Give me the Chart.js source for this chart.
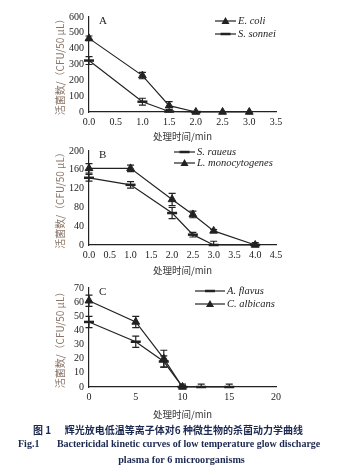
<!DOCTYPE html>
<html><head><meta charset="utf-8">
<script src="https://cdn.jsdelivr.net/npm/chart.js@4.4.1/dist/chart.umd.min.js"></script>
<style>
html,body{margin:0;padding:0;background:#fff;width:363px;height:473px;overflow:hidden;position:relative;}
.c{position:absolute;left:0;width:363px;}
.cap{position:absolute;left:0;width:363px;color:#1b2850;font-weight:bold;white-space:pre;}
</style></head><body>
<div class="c" style="top:0;height:142px"><canvas id="cA" width="363" height="142"></canvas></div>
<div class="c" style="top:140px;height:140px"><canvas id="cB" width="363" height="140"></canvas></div>
<div class="c" style="top:280px;height:140px"><canvas id="cC" width="363" height="140"></canvas></div>
<div class="cap" style="top:422px;left:33px;font-family:'Noto Sans CJK SC';font-size:10px;">图 1      辉光放电低温等离子体对6 种微生物的杀菌动力学曲线</div>
<div class="cap" style="top:438px;left:18px;font-family:'Liberation Serif';font-size:10px;">Fig.1       Bactericidal kinetic curves of low temperature glow discharge</div>
<div class="cap" style="top:454px;left:0;width:363px;text-align:center;font-family:'Liberation Serif';font-size:10.2px;">plasma for 6 microorganisms</div>
<script>
// Panel A
const xA = [0, 1, 1.5, 2, 2.5, 3];
const ecoli = [465, 230, 40, 0, 0, 0];
const ecoliErr = [15, 20, 25, 3, 3, 3];
const xA2 = [0, 1, 1.5, 2];
const sonnei = [325, 65, 3, 0];
const sonneiErr = [25, 22, 8, 2];
// Panel B
const xB = [0, 1, 2, 2.5, 3, 4];
const raueus = [143, 128, 68, 22, 0, 0];
const raueusErr = [7, 7, 12, 5, 8, 2];
const monocyt = [163, 163, 97, 65, 30, 0];
const monocytErr = [10, 7, 13, 7, 3, 5];
// Panel C
const xC1 = [0, 5, 8, 10, 12, 15];
const flavus = [46, 32, 18, 0, 0, 0];
const flavusErr = [4, 4, 4, 2, 2, 2];
const xC2 = [0, 5, 8, 10];
const albicans = [61, 46, 20, 0];
const albicansErr = [4, 4, 6, 1];

const yTitle = '活菌数/（CFU/50 μL）';
const xTitle = '处理时间/min';
const INK = '#222';
const serif = "'Liberation Serif', 'DejaVu Serif', serif";

const errorBars = {
  id: 'errorBars',
  afterDatasetsDraw(chart) {
    const ctx = chart.ctx, xs = chart.scales.x, ys = chart.scales.y;
    ctx.save();
    ctx.strokeStyle = INK; ctx.lineWidth = 1.2;
    chart.data.datasets.forEach(ds => {
      if (!ds.err) return;
      ds.data.forEach((p, i) => {
        const e = ds.err[i]; if (!e) return;
        const px = xs.getPixelForValue(p.x);
        const y1 = ys.getPixelForValue(p.y + e);
        const y2 = ys.getPixelForValue(Math.max(p.y - e, ys.min));
        ctx.beginPath();
        ctx.moveTo(px, y1); ctx.lineTo(px, y2);
        ctx.moveTo(px - 3.5, y1); ctx.lineTo(px + 3.5, y1);
        ctx.moveTo(px - 3.5, y2); ctx.lineTo(px + 3.5, y2);
        ctx.stroke();
      });
    });
    ctx.restore();
  }
};

const legendPlug = {
  id: 'legendPlug',
  afterDraw(chart, args, opts) {
    const ctx = chart.ctx;
    ctx.save();
    ctx.fillStyle = INK; ctx.font = "11px " + serif;
    ctx.textBaseline = 'middle'; ctx.textAlign = 'left';
    ctx.fillText(opts.letter, chart.chartArea.left + 10, chart.chartArea.top + 4);
    chart.data.datasets.forEach((ds, i) => {
      const y = opts.y0 + i * opts.dy;
      const x0 = opts.x0, L = opts.len;
      ctx.strokeStyle = INK; ctx.lineWidth = 1.2;
      ctx.beginPath(); ctx.moveTo(x0, y); ctx.lineTo(x0 + L, y); ctx.stroke();
      const cx = x0 + L / 2;
      ctx.fillStyle = INK;
      if (ds.pointStyle === 'triangle') {
        ctx.beginPath(); ctx.moveTo(cx, y - 4); ctx.lineTo(cx + 4, y + 3); ctx.lineTo(cx - 4, y + 3); ctx.closePath(); ctx.fill();
      } else {
        ctx.lineWidth = 2.5;
        ctx.beginPath(); ctx.moveTo(cx - 5, y); ctx.lineTo(cx + 5, y); ctx.stroke();
      }
      ctx.font = "italic 10.5px " + serif;
      ctx.fillStyle = INK;
      ctx.fillText(ds.label, x0 + L + 2, y);
    });
    ctx.restore();
  }
};

function ds(label, xs, ys, err, tri) {
  return {
    label, err,
    data: xs.map((x, i) => ({x, y: ys[i]})),
    borderColor: INK, backgroundColor: INK, borderWidth: 1.2,
    pointStyle: tri ? 'triangle' : 'line',
    pointRadius: tri ? 4.5 : 5,
    pointBorderWidth: tri ? 1 : 2.5,
    pointBackgroundColor: INK, pointBorderColor: INK,
    tension: 0, clip: false
  };
}

function make(id, datasets, xmax, xstep, dec, ymax, ystep, padTop, plotBottom, h, padBottom, leg) {
  new Chart(document.getElementById(id), {
    type: 'scatter',
    data: { datasets },
    plugins: [errorBars, legendPlug],
    options: {
      responsive: false, animation: false, showLine: true,
      layout: { padding: { top: padTop, left: 54, right: 363 - 276, bottom: padBottom } },
      plugins: { legend: { display: false }, tooltip: { enabled: false }, legendPlug: leg },
      scales: {
        x: {
          type: 'linear', min: 0, max: xmax,
          border: { color: INK, width: 1.2 },
          grid: { display: false, drawOnChartArea: false, drawTicks: true, tickLength: 3, color: INK },
          ticks: { stepSize: xstep, autoSkip: false, color: INK, font: { family: serif, size: 10 }, padding: 1, maxRotation: 0,
                   callback: v => v.toFixed(dec) },
          title: { display: true, text: xTitle, color: '#333', font: { family: "'Noto Sans CJK SC'", size: 9.5 }, padding: { top: 2, bottom: 0 } },
          afterFit(s) { s.height = h - padBottom - plotBottom; }
        },
        y: {
          min: 0, max: ymax,
          border: { color: INK, width: 1.2 },
          grid: { display: false, drawOnChartArea: false, drawTicks: true, tickLength: 3, color: INK },
          ticks: { stepSize: ystep, autoSkip: false, color: INK, font: { family: serif, size: 10 }, padding: 2 },
          title: { display: true, text: yTitle, color: '#8a7568', font: { family: "'Noto Sans CJK SC'", size: 10 }, padding: { top: 0, bottom: 2 } },
          afterFit(s) { s.width = 35; }
        }
      }
    }
  });
}

make('cA', [ds('E. coli', xA, ecoli, ecoliErr, true), ds('S. sonnei', xA2, sonnei, sonneiErr, false)],
     3.5, 0.5, 1, 600, 100, 17, 112, 142, 0, { letter: 'A', x0: 215, y0: 21, dy: 13, len: 21 });
make('cB', [ds('S. raueus', xB, raueus, raueusErr, false), ds('L. monocytogenes', xB, monocyt, monocytErr, true)],
     4.5, 0.5, 1, 200, 40, 11, 105, 140, 4, { letter: 'B', x0: 174, y0: 12, dy: 11, len: 21 });
make('cC', [ds('A. flavus', xC1, flavus, flavusErr, false), ds('C. albicans', xC2, albicans, albicansErr, true)],
     20, 5, 0, 70, 10, 7, 107, 140, 0, { letter: 'C', x0: 195, y0: 11, dy: 13, len: 30 });
</script>
</body></html>
